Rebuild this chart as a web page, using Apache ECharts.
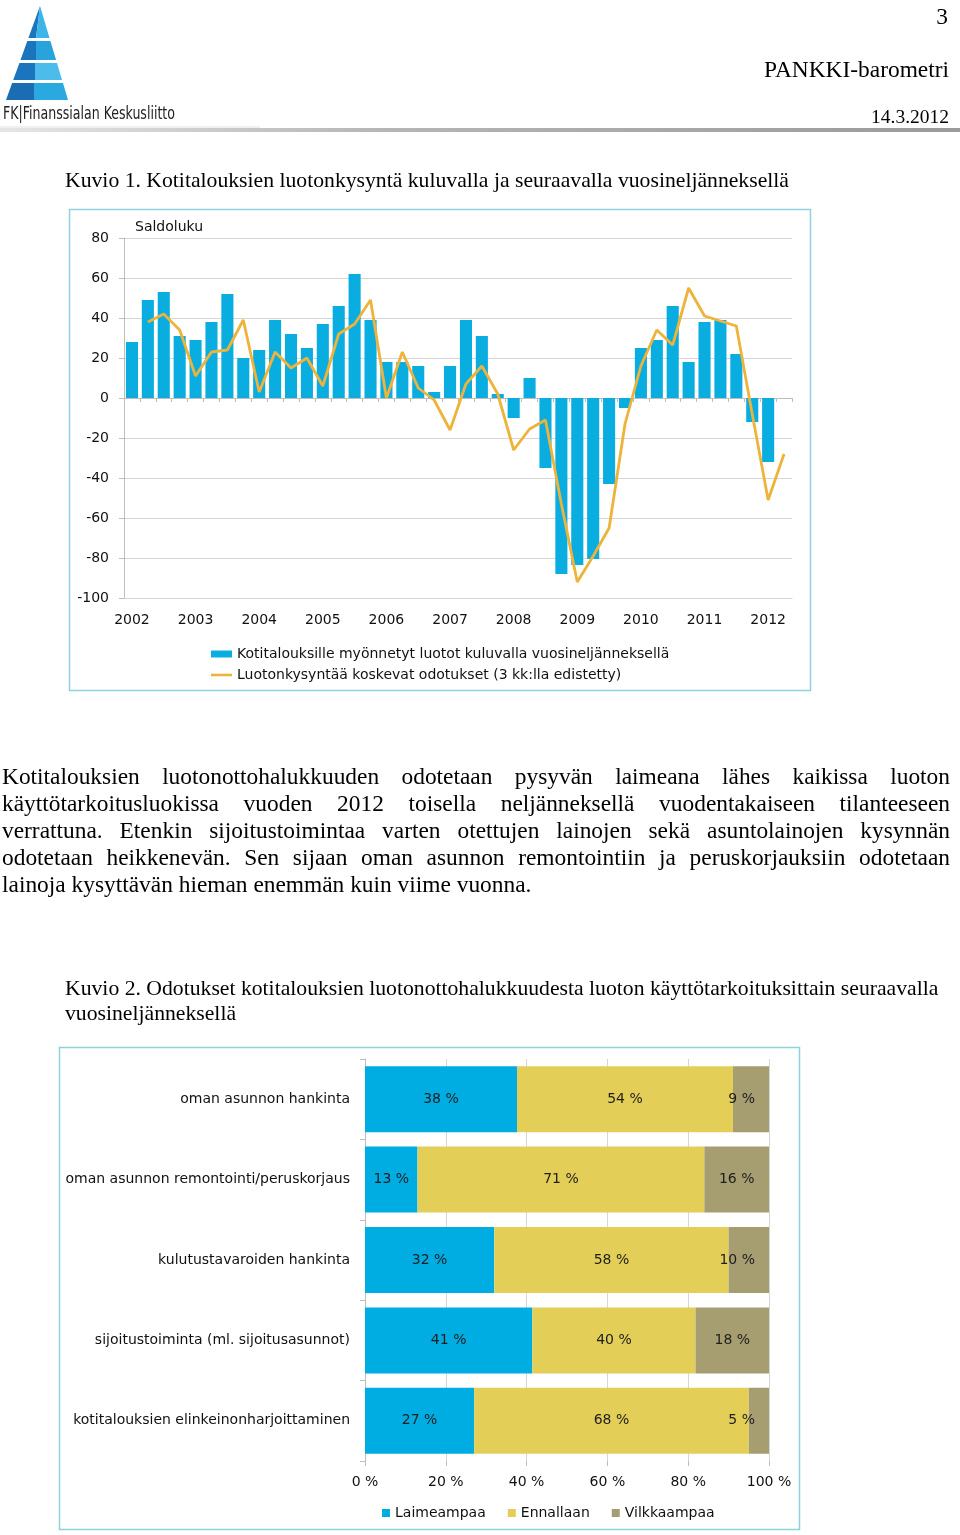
<!DOCTYPE html>
<html><head><meta charset="utf-8">
<script src="https://cdn.jsdelivr.net/npm/echarts@6/dist/echarts.min.js"></script>
<style>
html,body{margin:0;padding:0;background:#fff;}
#page{position:relative;width:960px;height:1535px;overflow:hidden;background:#fff;}
#chart{position:absolute;left:0;top:0;width:960px;height:1535px;}
.t{position:absolute;font-family:"Liberation Serif","Times New Roman",serif;color:#000;white-space:nowrap;}
.r{text-align:right;}
.p{left:2px;width:948px;font-size:23.4px;line-height:27px;text-align:justify;text-align-last:justify;white-space:normal;}
.cap{left:65px;font-size:21.7px;line-height:25px;}
#logo{position:absolute;left:0;top:0;}
</style></head><body>
<div id="page">
<div id="chart"></div>
<svg id="logo" width="260" height="135" viewBox="0 0 260 135">
  <polygon points="40,6 28.4,38 36,38" fill="#1B75BC"/>
  <polygon points="40,6 36,38 49.5,38" fill="#3DB5E6"/>
  <polygon points="27.3,41 20.5,60 36,60 36,41" fill="#1B75BC"/>
  <polygon points="36,41 50.4,41 56.1,60 36,60" fill="#29A3DC"/>
  <polygon points="19.4,63 13.2,80 35,80 35,63" fill="#1B75BC"/>
  <polygon points="35,63 57,63 62,80 35,80" fill="#4CBDEA"/>
  <polygon points="12.1,83 6,100 34,100 34,83" fill="#1B6DB3"/>
  <polygon points="34,83 63,83 68,100 34,100" fill="#2AA9E0"/>
  <text x="3" y="119" font-family="DejaVu Sans Condensed, DejaVu Sans" font-size="18" fill="#222" textLength="172" lengthAdjust="spacingAndGlyphs">FK|Finanssialan Keskusliitto</text>
  <line x1="0" y1="127" x2="260" y2="127" stroke="#e2e2e2" stroke-width="1"/>
</svg>
<div style="position:absolute;left:0;top:128px;width:960px;height:4px;background:linear-gradient(to right,#e6e6e6,#b5b5b5 40%,#9a9a9a);"></div>
<div class="t r" style="right:12px;top:3px;font-size:23.4px;line-height:26px;">3</div>
<div class="t r" style="right:11px;top:56px;font-size:23.4px;line-height:26px;">PANKKI-barometri</div>
<div class="t r" style="right:11px;top:106px;font-size:19.5px;line-height:22px;">14.3.2012</div>
<div class="t cap" style="top:167.5px;">Kuvio 1. Kotitalouksien luotonkysyntä kuluvalla ja seuraavalla vuosineljänneksellä</div>
<div class="t p" style="top:762.5px;">Kotitalouksien luotonottohalukkuuden odotetaan pysyvän laimeana lähes kaikissa luoton</div>
<div class="t p" style="top:789.5px;">käyttötarkoitusluokissa vuoden 2012 toisella neljänneksellä vuodentakaiseen tilanteeseen</div>
<div class="t p" style="top:816.5px;">verrattuna. Etenkin sijoitustoimintaa varten otettujen lainojen sekä asuntolainojen kysynnän</div>
<div class="t p" style="top:843.5px;">odotetaan heikkenevän. Sen sijaan oman asunnon remontointiin ja peruskorjauksiin odotetaan</div>
<div class="t" style="left:2px;top:870.5px;font-size:23.4px;line-height:27px;">lainoja kysyttävän hieman enemmän kuin viime vuonna.</div>
<div class="t cap" style="top:975.5px;">Kuvio 2. Odotukset kotitalouksien luotonottohalukkuudesta luoton käyttötarkoituksittain seuraavalla</div>
<div class="t cap" style="top:1000.5px;">vuosineljänneksellä</div>
</div>
<script>
// ---- Kuvio 1 data ----
const quarters = ['2002Q1','2002Q2','2002Q3','2002Q4','2003Q1','2003Q2','2003Q3','2003Q4',
  '2004Q1','2004Q2','2004Q3','2004Q4','2005Q1','2005Q2','2005Q3','2005Q4',
  '2006Q1','2006Q2','2006Q3','2006Q4','2007Q1','2007Q2','2007Q3','2007Q4',
  '2008Q1','2008Q2','2008Q3','2008Q4','2009Q1','2009Q2','2009Q3','2009Q4',
  '2010Q1','2010Q2','2010Q3','2010Q4','2011Q1','2011Q2','2011Q3','2011Q4',
  '2012Q1','2012Q2'];
const myonnetyt = [28,49,53,31,29,38,52,20,24,39,32,25,37,46,62,39,18,18,16,3,16,39,31,2,
  -10,10,-35,-88,-83.5,-80.5,-43,-5,25,29,46,18,38,39,22,-12,-32,null];
const odotukset = [null,38,42,34,11,23,24,39,3,23,15,20,6,32,37,49,0,23,5,-1,-16,7,16,2,
  -26,-15.5,-11,-53,-92,-79,-65,-13,16,34,26.5,55,41,38.5,36,-8,-51,-28];
const name1 = 'Kotitalouksille myönnetyt luotot kuluvalla vuosineljänneksellä';
const name2 = 'Luotonkysyntää koskevat odotukset (3 kk:lla edistetty)';
const yName = 'Saldoluku';

// ---- Kuvio 2 data ----
const kaytto = ['oman asunnon hankinta','oman asunnon remontointi/peruskorjaus','kulutustavaroiden hankinta',
  'sijoitustoiminta (ml. sijoitusasunnot)','kotitalouksien elinkeinonharjoittaminen'];
const laimeampaa = [38,13,32,41,27];
const ennallaan = [54,71,58,40,68];
const vilkkaampaa = [9,16,10,18,5];
const sNames = ['Laimeampaa','Ennallaan','Vilkkaampaa'];

const totals = kaytto.map((_, i) => laimeampaa[i] + ennallaan[i] + vilkkaampaa[i]);
function share(arr) {
  return arr.map((v, i) => {
    const p = v / totals[i] * 100;
    const d = { value: p, raw: v };
    if (p < 11) d.label = { position: 'insideRight', distance: 14 };
    return d;
  });
}

const FONT = 'DejaVu Sans';
const TXT = '#111';
const GRID = '#D6D6D6';
const AX = '#BDBDBD';
const BLUE = '#0AADE0';
const ORANGE = '#EDB33A';

const chart = echarts.init(document.getElementById('chart'), null, { renderer: 'canvas' });
const barLabel = {
  show: true, position: 'inside', fontFamily: FONT, fontSize: 14, color: '#1e1e1e',
  formatter: p => p.data.raw + ' %'
};
chart.setOption({
  animation: false,
  textStyle: { fontFamily: FONT },
  graphic: [
    { type: 'rect', silent: true, shape: { x: 69.5, y: 209.5, width: 741, height: 481 },
      style: { fill: 'none', stroke: '#8FD2DE', lineWidth: 1.5 } },
    { type: 'rect', silent: true, shape: { x: 59.5, y: 1047.5, width: 740, height: 482 },
      style: { fill: 'none', stroke: '#8FD2DE', lineWidth: 1.5 } }
  ],
  grid: [
    { left: 124, top: 238, width: 668, height: 360 },
    { left: 365, top: 1059, width: 404, height: 402 }
  ],
  legend: [
    { data: [{ name: name1, icon: 'rect' }], orient: 'vertical', padding: 0,
      left: 211, top: 647, itemWidth: 21, itemHeight: 7,
      textStyle: { fontFamily: FONT, fontSize: 14, color: TXT } },
    { data: [{ name: name2, icon: 'rect' }], orient: 'vertical', padding: 0,
      left: 211, top: 668, itemWidth: 21, itemHeight: 2.6,
      textStyle: { fontFamily: FONT, fontSize: 14, color: TXT } },
    { data: sNames, orient: 'horizontal', padding: 0, left: 382, top: 1506, itemWidth: 8, itemHeight: 8, itemGap: 22,
      icon: 'rect', textStyle: { fontFamily: FONT, fontSize: 14, color: TXT } }
  ],
  xAxis: [
    { gridIndex: 0, type: 'category', data: quarters, position: 'bottom', boundaryGap: true,
      axisLine: { show: true, onZero: false, lineStyle: { color: GRID } },
      axisTick: { show: false },
      axisLabel: { interval: 3, formatter: v => v.slice(0, 4), fontSize: 14, color: TXT, margin: 15 } },
    { gridIndex: 0, type: 'category', data: quarters, position: 'top', boundaryGap: true,
      axisLine: { show: true, onZero: true, lineStyle: { color: AX } },
      axisTick: { show: true, inside: true, interval: 0, length: 4, lineStyle: { color: AX } },
      axisLabel: { show: false } },
    { gridIndex: 1, type: 'value', min: 0, max: 100, interval: 20,
      axisLine: { show: false },
      axisTick: { show: true, length: 5, lineStyle: { color: AX } },
      splitLine: { show: true, lineStyle: { color: GRID } },
      axisLabel: { formatter: '{value} %', fontSize: 14, color: TXT, margin: 14 } }
  ],
  yAxis: [
    { gridIndex: 0, type: 'value', min: -100, max: 80, interval: 20,
      name: yName, nameLocation: 'end', nameGap: 4,
      nameTextStyle: { align: 'left', padding: [0, 0, 0, 11], fontSize: 14, color: TXT },
      axisLine: { show: true, lineStyle: { color: AX } },
      axisTick: { show: true, length: 5, lineStyle: { color: AX } },
      splitLine: { show: true, lineStyle: { color: GRID } },
      axisLabel: { fontSize: 14, color: TXT, margin: 15 } },
    { gridIndex: 1, type: 'category', data: kaytto, inverse: true,
      axisLine: { show: true, lineStyle: { color: AX } },
      axisTick: { show: true, length: 5, lineStyle: { color: AX } },
      axisLabel: { fontSize: 14, color: TXT, margin: 15 } }
  ],
  series: [
    { name: name1, type: 'bar', xAxisIndex: 0, yAxisIndex: 0, data: myonnetyt,
      barWidth: '76%', itemStyle: { color: BLUE }, z: 2 },
    { name: name2, type: 'line', xAxisIndex: 0, yAxisIndex: 0, data: odotukset,
      symbol: 'none', connectNulls: false, lineStyle: { color: ORANGE, width: 2.8 },
      itemStyle: { color: ORANGE }, z: 3 },
    { name: sNames[0], type: 'bar', stack: 'k', xAxisIndex: 2, yAxisIndex: 1, data: share(laimeampaa),
      barWidth: 66, itemStyle: { color: '#00ADE3' }, label: barLabel },
    { name: sNames[1], type: 'bar', stack: 'k', xAxisIndex: 2, yAxisIndex: 1, data: share(ennallaan),
      barWidth: 66, itemStyle: { color: '#E3CF57' }, label: barLabel },
    { name: sNames[2], type: 'bar', stack: 'k', xAxisIndex: 2, yAxisIndex: 1, data: share(vilkkaampaa),
      barWidth: 66, itemStyle: { color: '#A69D71' }, label: barLabel }
  ]
});
</script>
</body></html>
